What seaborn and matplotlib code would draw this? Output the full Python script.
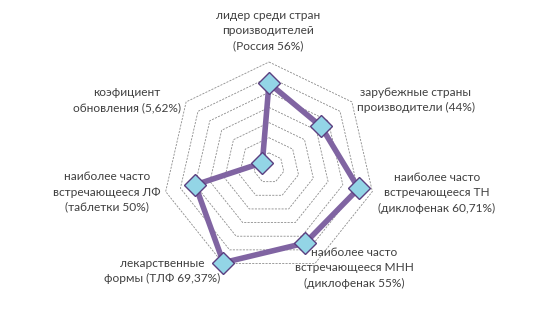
import numpy as np
import pandas as pd
import matplotlib
matplotlib.use("Agg")
import matplotlib.pyplot as plt
import seaborn as sns

categories = [
    "лидер среди стран\nпроизводителей\n(Россия 56%)",
    "зарубежные страны\nпроизводители (44%)",
    "наиболее часто\nвстречающееся ТН\n(диклофенак 60,71%)",
    "наиболее часто\nвстречающееся МНН\n(диклофенак 55%)",
    "лекарственные\nформы (ТЛФ 69,37%)",
    "наиболее часто\nвстречающееся ЛФ\n(таблетки 50%)",
    "коэфициент\nобновления (5,62%)",
]
values = [56, 44, 60.71, 55, 69.37, 50, 5.62]
ring_levels = [10, 20, 30, 40, 50, 60, 70]

sns.set_theme(style="white")
plt.rcParams['font.family'] = ['Lato', 'DejaVu Sans']

W, H = 540, 336
fig = plt.figure(figsize=(W / 100, H / 100), dpi=100)
cx, cy, R = 269, 168, 106
ax = fig.add_axes([(cx - R) / W, (H - cy - R) / H, 2 * R / W, 2 * R / H], projection="polar")
ax.set_theta_offset(np.pi / 2)
ax.set_theta_direction(-1)
ax.set_ylim(0, 70)
ax.grid(False)
ax.spines["polar"].set_visible(False)
ax.set_xticks([])
ax.set_yticks([])
ax.patch.set_alpha(0)

n = len(categories)
theta = np.arange(n) * 2 * np.pi / n
theta_c = np.append(theta, 2 * np.pi)

for lv in ring_levels:
    ax.plot(theta_c, [lv] * (n + 1), color="#8c8c8c", lw=0.6,
            ls=(0, (2.5, 1.5)), zorder=1, clip_on=False)

df = pd.DataFrame({"theta": theta_c, "value": values + [values[0]]})
sns.lineplot(data=df, x="theta", y="value", sort=False, ax=ax,
             color="#8064A2", lw=4.0, zorder=3, clip_on=False)
ax.plot(theta, values, ls="none", marker="D", markersize=11.5,
        markerfacecolor="#93D5E6", markeredgecolor="#5B3F80", markeredgewidth=1.0,
        zorder=4, clip_on=False)
ax.set_xlabel("")
ax.set_ylabel("")

label_pos = [(268, 31), (416, 100), (437, 193), (354, 268), (162, 271), (107, 192), (127, 100)]
for txt, (x, y) in zip(categories, label_pos):
    fig.text(x / W, 1 - y / H, txt, ha="center", va="center", fontsize=8.6,
             color="#404040", linespacing=1.45)

fig.savefig("out.png", dpi=100)
